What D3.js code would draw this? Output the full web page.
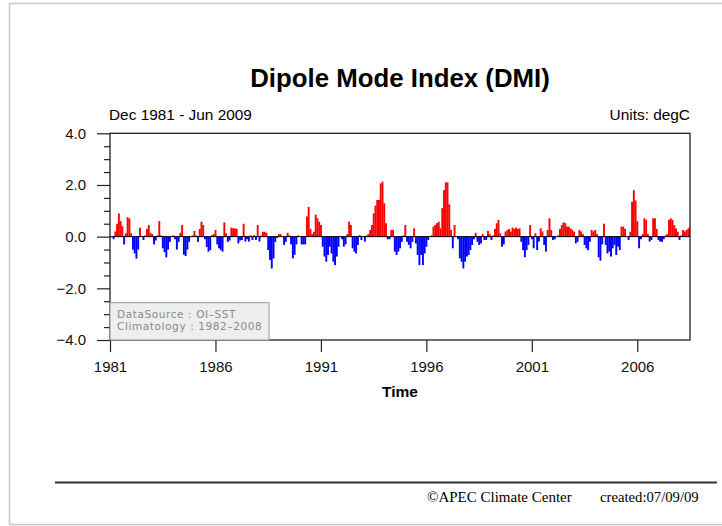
<!DOCTYPE html>
<html>
<head>
<meta charset="utf-8">
<script src="https://cdn.jsdelivr.net/npm/d3@7"></script>
<style>
  body { margin: 0; background: #fff; }
  svg { display: block; font-family: "Liberation Sans", Arial, Helvetica, sans-serif; }
</style>
</head>
<body>
<svg id="chart"></svg>
<script>
// Monthly DMI (degC), Dec 1981 first, then one row per year Jan..Dec
let dmi = [
  -0.05,
  0.0, -0.1, 0.2, 0.5, 0.9, 0.6, 0.4, -0.3, 0.13, 0.75, 0.7, 0.13,          // 1982
  -0.5, -0.65, -0.85, -0.5, 0.35, 0.03, -0.13, 0.05, 0.3, 0.45, 0.15, 0.1,  // 1983
  -0.3, -0.15, 0.05, 0.6, 0.05, -0.45, -0.6, -0.8, -0.5, -0.2, 0.0, 0.05,   // 1984
  -0.1, -0.5, -0.2, 0.15, 0.45, -0.7, -0.75, -0.5, -0.2, 0.0, 0.05, 0.22,   // 1985
  0.05, -0.2, 0.3, 0.58, 0.45, -0.1, -0.4, -0.58, -0.52, 0.06, 0.1, 0.26,   // 1986
  -0.3, -0.45, -0.52, -0.58, 0.55, 0.13, -0.2, -0.15, 0.35, 0.32, 0.32, 0.3, // 1987
  -0.26, -0.15, -0.13, 0.5, -0.19, -0.1, -0.19, 0.05, -0.13, 0.06, -0.13, 0.45, // 1988
  -0.19, 0.05, 0.19, 0.19, 0.15, -0.52, -0.9, -1.23, -0.84, -0.2, -0.05, 0.1, // 1989
  0.1, 0.0, -0.32, -0.2, 0.15, 0.05, -0.3, -0.84, -0.7, -0.3, 0.05, 0.0,    // 1990
  -0.3, -0.3, -0.3, 0.78, 1.15, 0.3, 0.1, 0.19, 0.85, 0.71, 0.58, 0.45,     // 1991
  -0.39, -0.77, -0.97, -0.71, -0.39, -0.65, -0.97, -1.1, -0.77, -0.39, 0.0, -0.1, // 1992
  -0.39, -0.3, 0.1, 0.58, 0.45, -0.45, -0.58, -0.65, -0.32, 0.06, -0.13, 0.0, // 1993
  -0.19, 0.05, 0.1, 0.26, 0.45, 0.9, 1.2, 1.42, 1.42, 2.06, 2.13, 1.29,     // 1994
  0.52, -0.1, -0.1, 0.26, 0.26, -0.58, -0.71, -0.58, -0.45, -0.2, 0.05, 0.45, // 1995
  -0.2, -0.32, -0.45, -0.2, 0.32, -0.26, -0.71, -1.1, -0.71, -1.1, -0.65, -0.39, // 1996
  -0.13, 0.0, 0.05, 0.39, 0.45, 0.52, 0.58, 0.32, 1.1, 1.8, 2.1, 2.1,       // 1997
  1.25, 0.26, -0.45, 0.45, 0.0, -0.1, -0.84, -0.97, -1.23, -0.97, -0.77, -0.71, // 1998
  -0.52, -0.32, -0.1, 0.15, -0.2, -0.32, -0.26, 0.1, -0.13, -0.13, 0.22, 0.1, // 1999
  -0.13, 0.05, 0.3, 0.52, 0.65, 0.13, -0.39, -0.3, 0.2, 0.25, 0.3, 0.2,     // 2000
  0.35, 0.3, 0.35, 0.3, 0.32, -0.2, -0.52, -0.8, -0.52, -0.32, 0.45, -0.1,  // 2001
  -0.45, 0.13, -0.52, -0.19, 0.32, 0.2, -0.32, -0.58, 0.26, 0.71, 0.26, -0.13, // 2002
  -0.1, 0.0, 0.05, 0.3, 0.45, 0.55, 0.52, 0.39, 0.39, 0.32, 0.26, 0.19,     // 2003
  -0.26, -0.2, 0.26, 0.2, 0.1, -0.32, -0.45, -0.52, -0.2, 0.26, 0.2, 0.26,  // 2004
  0.1, -0.8, -0.93, -0.3, 0.5, -0.32, -0.65, -0.58, -0.77, -0.45, -0.32, -0.71, // 2005
  -0.39, -0.52, 0.39, 0.39, 0.3, 0.0, -0.13, 0.19, 1.35, 1.8, 1.4, 0.6,     // 2006
  -0.45, -0.1, 0.1, 0.71, 0.65, 0.1, -0.19, -0.13, 0.71, 0.71, 0.3, -0.13,  // 2007
  -0.19, -0.2, -0.1, 0.05, 0.1, 0.65, 0.71, 0.65, 0.45, 0.32, 0.19, -0.13,  // 2008
  0.05, 0.26, 0.2, 0.26, 0.32, 0.39                                         // 2009
];

let yearTicks = [1981, 1986, 1991, 1996, 2001, 2006];
let yTickValues = [-4, -2, 0, 2, 4];
let legendLines = ["DataSource : OI\u2013SST", "Climatology : 1982\u20132008"];

let width = 722, height = 526;
let plot = {left: 110, right: 690, top: 133.3, bottom: 340};

let svg = d3.select("#chart")
  .attr("width", width)
  .attr("height", height)
  .attr("viewBox", [0, 0, width, height]);

// page frame
svg.append("rect")
  .attr("x", 9.5).attr("y", 3.5)
  .attr("width", 730).attr("height", 521)
  .attr("fill", "none")
  .attr("stroke", "#c8c8c8")
  .attr("stroke-width", 1.5);

// x runs over month index, axis labelled in years from the first month
let x = d3.scaleLinear().domain([0, dmi.length - 1]).range([plot.left, plot.right]);
let y = d3.scaleLinear().domain([-4, 4]).range([plot.bottom, plot.top]);
let bw = x(1) - x(0);

svg.append("defs").append("clipPath").attr("id", "clip")
  .append("rect")
  .attr("x", plot.left).attr("y", plot.top)
  .attr("width", plot.right - plot.left).attr("height", plot.bottom - plot.top);

// bars
svg.append("g").attr("clip-path", "url(#clip)")
  .selectAll("rect").data(dmi).join("rect")
  .attr("x", (d, i) => x(i) - bw / 2)
  .attr("width", bw + 0.15)
  .attr("y", (d) => d >= 0 ? y(d) : y(0))
  .attr("height", (d) => Math.abs(y(d) - y(0)))
  .attr("fill", (d) => d >= 0 ? "#ff0000" : "#0000ff");

// zero line
svg.append("line")
  .attr("x1", plot.left).attr("x2", plot.right)
  .attr("y1", y(0)).attr("y2", y(0))
  .attr("stroke", "#000").attr("stroke-width", 1);

// y axis: major ticks every 2, minor every 0.5, all outward
let yAxis = d3.axisLeft(y)
  .tickValues(yTickValues)
  .tickSize(13)
  .tickPadding(11)
  .tickFormat(d3.format(".1f"));

let yMinor = d3.axisLeft(y)
  .tickValues(d3.range(-4, 4.01, 0.5).filter((v) => !yTickValues.includes(v)))
  .tickSize(6)
  .tickFormat("");

let gyMinor = svg.append("g").attr("transform", "translate(" + plot.left + ",0)").call(yMinor);
let gy = svg.append("g").attr("transform", "translate(" + plot.left + ",0)").call(yAxis);

let xAxis = d3.axisBottom(x)
  .tickValues(yearTicks.map((yr) => (yr - 1981) * 12))
  .tickSize(12)
  .tickPadding(9)
  .tickFormat((d) => String(1981 + d / 12));

let gx = svg.append("g").attr("transform", "translate(0," + plot.bottom + ")").call(xAxis);

[gy, gyMinor, gx].forEach((g) => {
  g.select(".domain").remove();
  g.selectAll(".tick line").attr("stroke", "#222").attr("stroke-width", 1.2);
  g.selectAll("text")
    .attr("fill", "#111")
    .style("font-size", "15px")
    .style("font-family", "'Liberation Sans', Arial, sans-serif");
});

// plot border
svg.append("rect")
  .attr("x", plot.left).attr("y", plot.top)
  .attr("width", plot.right - plot.left).attr("height", plot.bottom - plot.top)
  .attr("fill", "none")
  .attr("stroke", "#222")
  .attr("stroke-width", 1.3);

// legend box in the lower left corner
let lg = svg.append("g");
lg.append("rect")
  .attr("x", plot.left).attr("y", 302.7)
  .attr("width", 159).attr("height", plot.bottom - 302.7)
  .attr("fill", "#eeeeee")
  .attr("stroke", "#9a9a9a")
  .attr("stroke-width", 1);
lg.selectAll("text").data(legendLines).join("text")
  .attr("x", plot.left + 7)
  .attr("y", (d, i) => 318.3 + i * 11.3)
  .attr("fill", "#8a8a8a")
  .style("font-family", "'DejaVu Sans', sans-serif")
  .style("font-size", "10.5px")
  .style("letter-spacing", "0.6px")
  .text((d) => d);

// titles
svg.append("text")
  .attr("x", (plot.left + plot.right) / 2).attr("y", 87)
  .attr("text-anchor", "middle")
  .style("font-size", "25.8px").style("font-weight", "bold")
  .text("Dipole Mode Index (DMI)");

svg.append("text")
  .attr("x", plot.left - 1).attr("y", 120)
  .style("font-size", "15.4px")
  .text("Dec 1981 - Jun 2009");

svg.append("text")
  .attr("x", plot.right).attr("y", 120)
  .attr("text-anchor", "end")
  .style("font-size", "15.4px")
  .text("Units: degC");

svg.append("text")
  .attr("x", (plot.left + plot.right) / 2).attr("y", 397)
  .attr("text-anchor", "middle")
  .style("font-size", "15.5px").style("font-weight", "bold")
  .text("Time");

// footer
svg.append("line")
  .attr("x1", 55).attr("x2", 717)
  .attr("y1", 482.5).attr("y2", 482.5)
  .attr("stroke", "#333").attr("stroke-width", 2);

svg.append("text")
  .attr("x", 427).attr("y", 501.5)
  .style("font-family", "'Liberation Serif', 'Times New Roman', serif")
  .style("font-size", "15px")
  .text("\u00A9APEC Climate Center");

svg.append("text")
  .attr("x", 600).attr("y", 501.5)
  .style("font-family", "'Liberation Serif', 'Times New Roman', serif")
  .style("font-size", "14.7px")
  .text("created:07/09/09");
</script>
</body>
</html>
